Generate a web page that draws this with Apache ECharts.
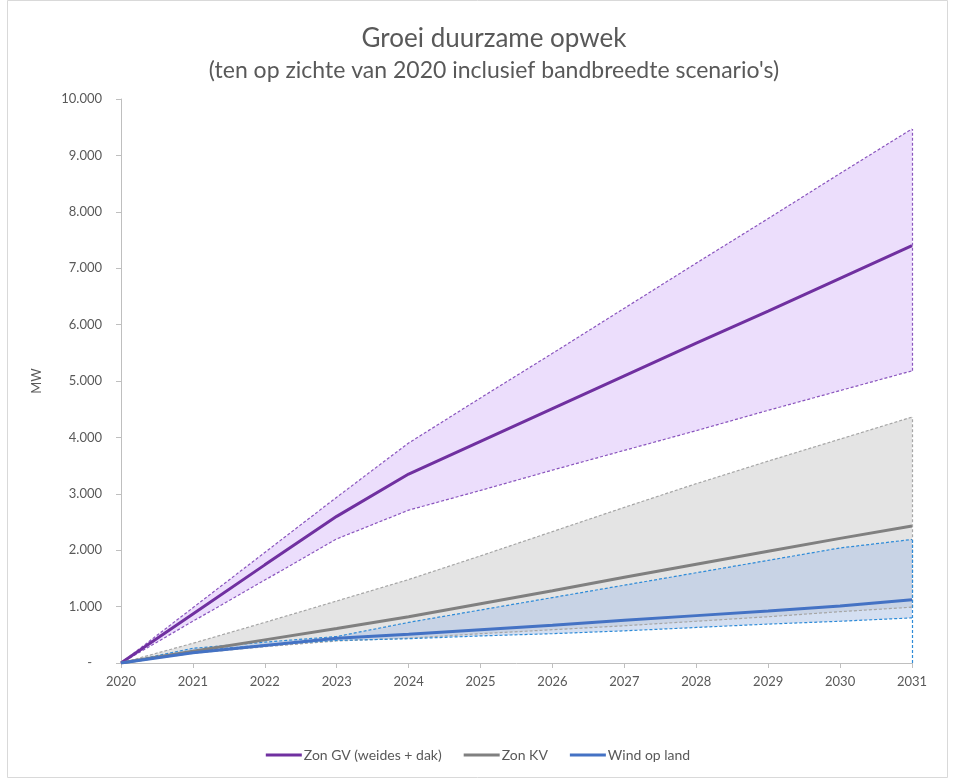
<!DOCTYPE html>
<html>
<head>
<meta charset="utf-8">
<title>Groei duurzame opwek</title>
<script src="https://cdn.jsdelivr.net/npm/echarts@6/dist/echarts.min.js"></script>
<style>
  html, body { margin: 0; padding: 0; background: #ffffff; }
  #chart { width: 956px; height: 780px; }
</style>
</head>
<body>
<div id="chart"></div>
<script>
// Years on the horizontal axis
const years = ['2020','2021','2022','2023','2024','2025','2026','2027','2028','2029','2030','2031'];

// Zon GV (weides + dak), MW relative to 2020
const zonGV      = [0, 870, 1740, 2600, 3350, 3930, 4510, 5090, 5670, 6240, 6820, 7400];
const zonGVHoog  = [0, 980, 1960, 2940, 3900, 4700, 5490, 6290, 7090, 7880, 8680, 9470];
const zonGVLaag  = [0, 740, 1470, 2200, 2710, 3060, 3420, 3770, 4120, 4480, 4830, 5180];

// Zon KV
const zonKV      = [0, 210, 410, 610, 820, 1050, 1280, 1520, 1750, 1980, 2210, 2430];
const zonKVHoog  = [0, 350, 720, 1100, 1480, 1900, 2330, 2760, 3180, 3580, 3970, 4360];
const zonKVLaag  = [0, 170, 290, 390, 440, 520, 590, 660, 740, 820, 910, 990];

// Wind op land
const wind       = [0, 180, 310, 440, 510, 590, 670, 760, 840, 920, 1010, 1120];
const windHoog   = [0, 260, 370, 470, 720, 940, 1160, 1380, 1600, 1820, 2040, 2190];
const windLaag   = [0, 210, 320, 400, 430, 480, 520, 570, 630, 690, 740, 800];

// Y-axis tick values
const yTicks = [0, 1000, 2000, 3000, 4000, 5000, 6000, 7000, 8000, 9000, 10000];

const FONT = 'Lato';
const TEXT = '#595959';

function fmt(v) {
  if (v === 0) return '-   ';
  return String(v).replace(/\B(?=(\d{3})+(?!\d))/g, '.');
}

function diff(hi, lo) { return hi.map((v, i) => v - lo[i]); }

// Shaded band between a lower and upper scenario, drawn as two stacked series
function band(id, lo, hi, fill, z) {
  return [
    {
      name: id + '-basis', type: 'line', stack: id, data: lo,
      symbol: 'none', silent: true, z: z,
      lineStyle: { width: 0, opacity: 0 }
    },
    {
      name: id + '-bandbreedte', type: 'line', stack: id, data: diff(hi, lo),
      symbol: 'none', silent: true, z: z,
      lineStyle: { width: 0, opacity: 0 },
      areaStyle: { color: fill, opacity: 1 }
    }
  ];
}

// Dashed scenario edge with a closing vertical at the last year
function edge(id, data, color, z, vFrom, vTo) {
  const s = {
    name: id, type: 'line', data: data, symbol: 'none', silent: true, z: z,
    lineStyle: { color: color, width: 1.2, type: [3, 2] }
  };
  if (vFrom !== undefined) {
    s.markLine = {
      silent: true, symbol: 'none', label: { show: false },
      lineStyle: { color: color, width: 1.2, type: [3, 2] },
      data: [[{ coord: [years.length - 1, vFrom] }, { coord: [years.length - 1, vTo] }]]
    };
  }
  return s;
}

function main(name, data, color) {
  return {
    name: name, type: 'line', data: data, symbol: 'none', z: 10,
    lineStyle: { color: color, width: 3 },
    itemStyle: { color: color }
  };
}

const last = years.length - 1;

const series = [
  ...band('gv', zonGVLaag, zonGVHoog, '#ecdefc', 2),
  ...band('kv', zonKVLaag, zonKVHoog, '#e4e4e4', 3),
  ...band('wind', windLaag, windHoog, 'rgba(176,196,230,0.55)', 4),
  edge('gv-hoog', zonGVHoog, '#8a55be', 6, zonGVLaag[last], zonGVHoog[last]),
  edge('gv-laag', zonGVLaag, '#8a55be', 6),
  edge('kv-hoog', zonKVHoog, '#a6a6a6', 6, zonKVLaag[last], zonKVHoog[last]),
  edge('kv-laag', zonKVLaag, '#a6a6a6', 6),
  edge('wind-hoog', windHoog, '#2e8bd8', 7, 0, windHoog[last]),
  edge('wind-laag', windLaag, '#2e8bd8', 7),
  main('Zon GV (weides + dak)', zonGV, '#7030a0'),
  main('Zon KV', zonKV, '#808080'),
  main('Wind op land', wind, '#4472c4')
];

const chart = echarts.init(document.getElementById('chart'), null, { renderer: 'canvas' });

chart.setOption({
  animation: false,
  backgroundColor: '#ffffff',
  textStyle: { fontFamily: FONT },
  title: {
    text: 'Groei duurzame opwek',
    subtext: "(ten op zichte van 2020 inclusief bandbreedte scenario's)",
    left: 489,
    textAlign: 'center',
    top: 21,
    itemGap: 7,
    textStyle: { fontFamily: FONT, fontSize: 26, fontWeight: 'normal', color: TEXT },
    subtextStyle: { fontFamily: FONT, fontSize: 23, color: TEXT }
  },
  graphic: [{
    type: 'rect', silent: true, z: -1,
    shape: { x: 7.5, y: 0.5, width: 940, height: 777 },
    style: { fill: 'none', stroke: '#d9d9d9', lineWidth: 1 }
  }],
  legend: {
    data: ['Zon GV (weides + dak)', 'Zon KV', 'Wind op land'],
    bottom: 13,
    left: 'center',
    icon: 'rect',
    itemWidth: 36,
    itemHeight: 3,
    itemGap: 22,
    textStyle: { fontFamily: FONT, fontSize: 14, color: TEXT, padding: [0, 0, 0, -3] }
  },
  grid: { left: 121, right: 44, top: 99, bottom: 117, containLabel: false },
  xAxis: {
    type: 'category',
    data: years,
    boundaryGap: false,
    axisLine: { lineStyle: { color: '#bfbfbf', width: 1 } },
    axisTick: { show: true, alignWithLabel: true, length: 5, lineStyle: { color: '#bfbfbf' } },
    axisLabel: { color: TEXT, fontFamily: FONT, fontSize: 13, margin: 12 },
    splitLine: { show: false }
  },
  yAxis: {
    type: 'value',
    min: yTicks[0],
    max: yTicks[yTicks.length - 1],
    interval: 1000,
    name: 'MW',
    nameLocation: 'middle',
    nameGap: 78,
    nameRotate: 90,
    nameTextStyle: { color: TEXT, fontFamily: FONT, fontSize: 13 },
    axisLine: { show: true, lineStyle: { color: '#bfbfbf', width: 1 } },
    axisTick: { show: true, length: 5, lineStyle: { color: '#bfbfbf' } },
    axisLabel: { color: TEXT, fontFamily: FONT, fontSize: 13, margin: 19, formatter: fmt },
    splitLine: { show: false }
  },
  tooltip: { show: false },
  series: series
});
</script>
</body>
</html>
